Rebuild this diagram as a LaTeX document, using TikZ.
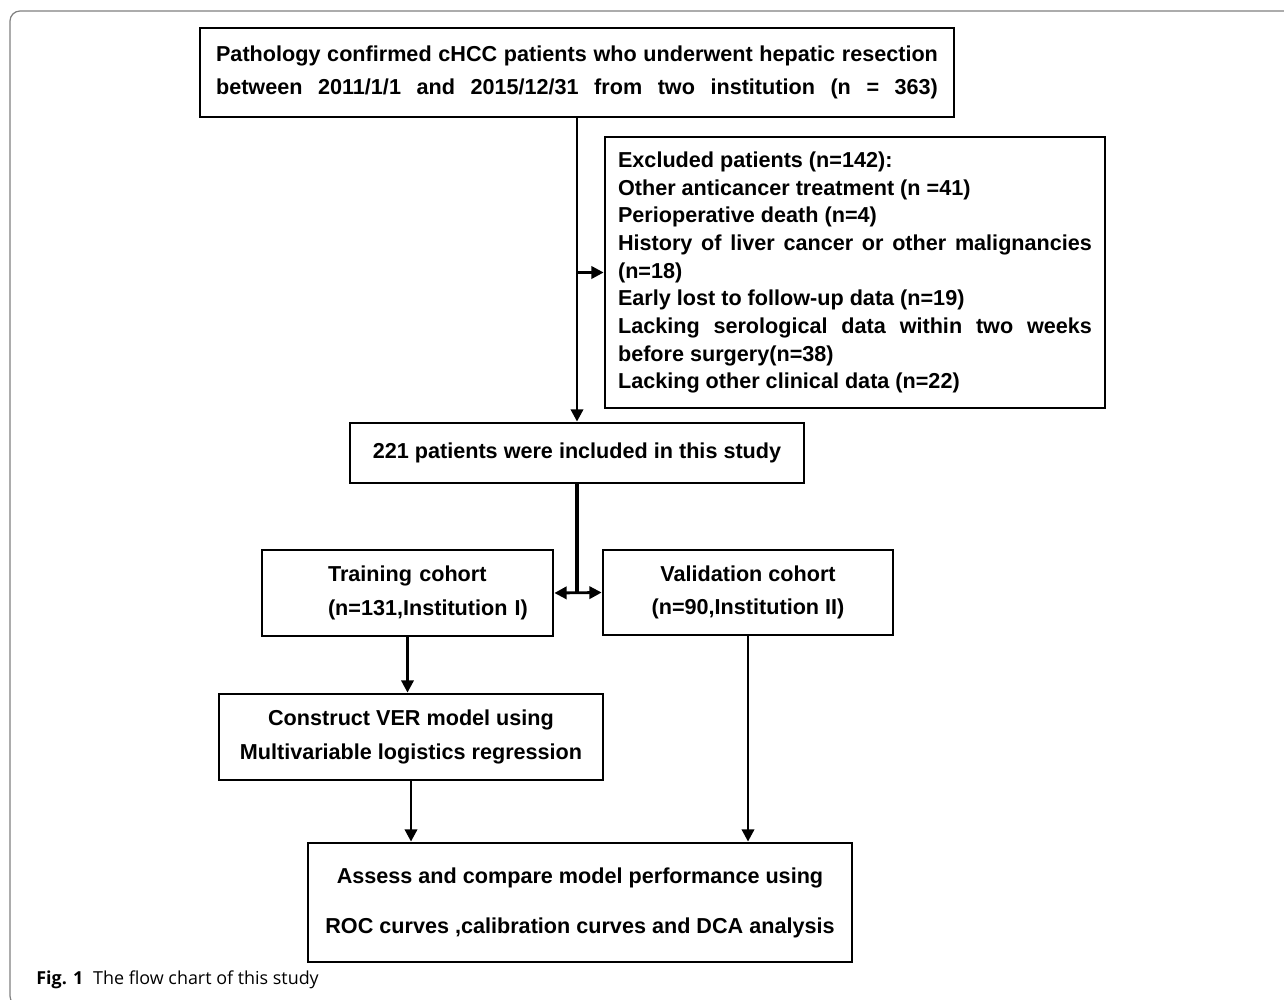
\documentclass[tikz,border=0pt]{standalone}
\usepackage{fontspec}
\setmainfont{Liberation Sans}
\newfontfamily\capfont{Open Sans}
\usetikzlibrary{arrows.meta,positioning}

\begin{document}
\begin{tikzpicture}[
    x=0.02cm, y=-0.02cm,
    box/.style={draw, line width=1.6pt, align=center, inner sep=0pt,
        font=\bfseries\fontsize{12.3pt}{19pt}\selectfont},
    arr/.style={-{Triangle[width=7pt,length=7pt]}, line width=1.6pt},
    dbl/.style={{Triangle[width=7pt,length=7pt]}-{Triangle[width=7pt,length=7pt]}, line width=1.6pt}
]
\useasboundingbox (0,0) rectangle (1284,1000);
% outer frame
\draw[black!50, line width=0.7pt, rounded corners=0.2cm] (10,11) rectangle (1320,1006);

\node[box, minimum width=15.08cm, minimum height=1.78cm,
      font=\bfseries\fontsize{12.3pt}{18.8pt}\selectfont] (cohort) at (577,72.5)
  {\hbox to 14.44cm{\spaceskip=0.28em plus 1fil Pathology confirmed cHCC patients who underwent hepatic resection}\\
   \hbox to 14.44cm{\spaceskip=0.28em plus 1fil between 2011/1/1 and 2015/12/31 from two institution (n = 363)}};
\node[box, minimum width=10cm, minimum height=5.42cm, text width=9.48cm, align=justify,
      font=\bfseries\fontsize{12.3pt}{15.75pt}\selectfont] (excl) at (855,272.5)
  {\hyphenpenalty=10000 Excluded patients (n=142):\\
   Other anticancer treatment (n =41)\\
   Perioperative death (n=4)\\
   History of liver cancer or other malignancies (n=18)\\
   Early lost to follow-up data (n=19)\\
   Lacking serological data within two weeks before surgery(n=38)\\
   Lacking other clinical data (n=22)\par};
\node[box, minimum width=9.08cm, minimum height=1.2cm] (incl) at (577,453)
  {221 patients were included in this study};
\node[box, minimum width=5.82cm, minimum height=1.72cm, text width=5.82cm, align=left,
      font=\bfseries\fontsize{12.3pt}{19.3pt}\selectfont] (train) at (407.5,593)
  {\hspace*{1.32cm}Training cohort\\
   \hspace*{1.32cm}(n=131,Institution I)};
\node[box, minimum width=5.8cm, minimum height=1.7cm,
      font=\bfseries\fontsize{12.3pt}{18.8pt}\selectfont] (valid) at (748,592.5)
  {Validation cohort\\(n=90,Institution II)};
\node[box, minimum width=7.68cm, minimum height=1.72cm,
      font=\bfseries\fontsize{12.3pt}{19.3pt}\selectfont] (constr) at (411,737)
  {Construct VER model using\\Multivariable logistics regression};
\node[box, minimum width=10.88cm, minimum height=2.38cm,
      font=\bfseries\fontsize{12.3pt}{28.45pt}\selectfont] (assess) at (580,902.5)
  {Assess and compare model performance using\\ROC curves ,calibration curves and DCA analysis};
\node[anchor=base west, inner sep=0pt, font=\capfont\fontsize{10.2pt}{12pt}\selectfont] (caption) at (36,984)
  {\textbf{Fig. 1}\hspace{0.55em}The flow chart of this study};

\coordinate (split) at (incl.south |- train.east);
\draw[arr] (cohort.south) -- (incl.north);
\draw[arr] (cohort.south |- excl.west) -- (excl.west);
\draw[line width=2.2pt] (incl.south) -- (split);
\draw[dbl] (train.east) -- (valid.west);
\draw[arr] (train.south) -- (train.south |- constr.north);
\draw[arr] (constr.south) -- (constr.south |- assess.north);
\draw[arr] (valid.south) -- (valid.south |- assess.north);
\end{tikzpicture}
\end{document}
